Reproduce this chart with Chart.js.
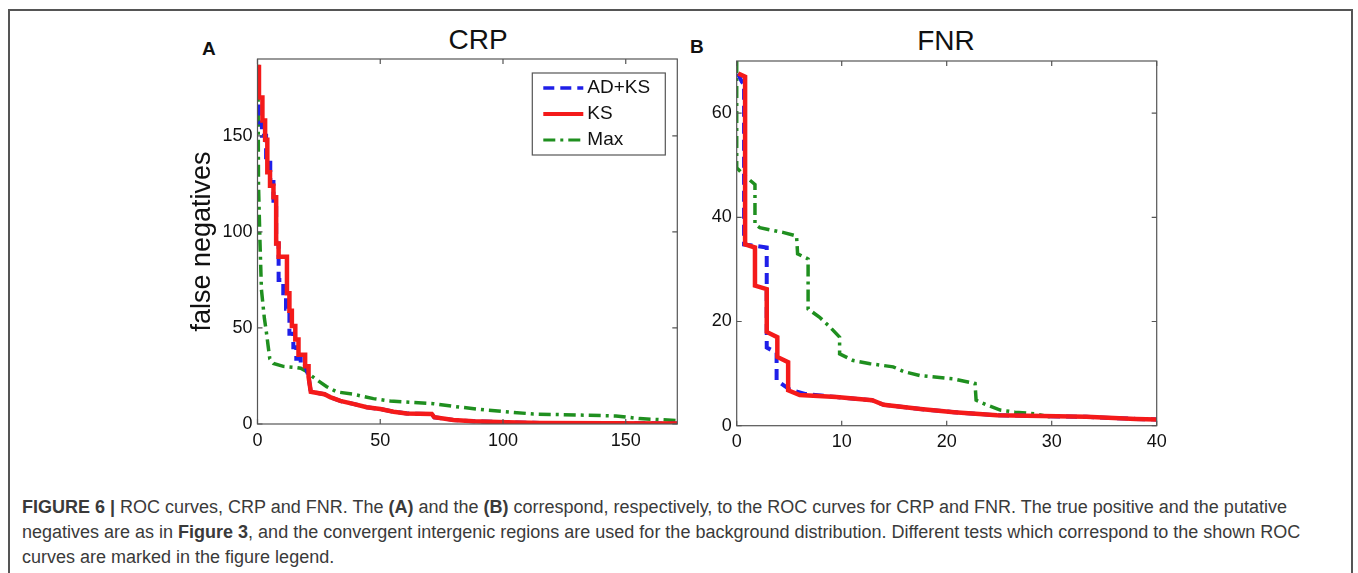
<!DOCTYPE html>
<html>
<head>
<meta charset="utf-8">
<script src="https://cdn.jsdelivr.net/npm/chart.js@4.4.1/dist/chart.umd.min.js"></script>
<style>
  body { margin: 0; width: 1358px; height: 573px; background: #fff; position: relative; overflow: hidden;
         font-family: "Liberation Sans", Arial, sans-serif; }
  .frame { position: absolute; left: 8px; top: 9px; width: 1345px; height: 620px; border: 2px solid #555; box-sizing: border-box; }
  .panel { position: absolute; top: 20px; width: 550px; height: 450px; }
  .title { position: absolute; font-size: 28px; line-height: 28px; color: #111; transform: translateX(-50%); }
  .letter { position: absolute; font-weight: bold; font-size: 19px; line-height: 19px; color: #111; }
  .caption { position: absolute; left: 22px; top: 495px; font-size: 18px; line-height: 25px; color: #3a3a3a; white-space: nowrap; }
</style>
</head>
<body>
<div class="frame"></div>
<div class="letter" style="left:202px; top:39px;">A</div>
<div class="letter" style="left:690px; top:37px;">B</div>
<div class="title" style="left:478px; top:26px;">CRP</div>
<div class="title" style="left:946px; top:27px;">FNR</div>
<div class="panel" style="left:150px;"><canvas id="crp"></canvas></div>
<div class="panel" style="left:640px;"><canvas id="fnr"></canvas></div>
<div class="caption">
<b>FIGURE 6 |</b> ROC curves, CRP and FNR. The <b>(A)</b> and the <b>(B)</b> correspond, respectively, to the ROC curves for CRP and FNR. The true positive and the putative<br>
negatives are as in <b>Figure 3</b>, and the convergent intergenic regions are used for the background distribution. Different tests which correspond to the shown ROC<br>
curves are marked in the figure legend.
</div>
<script>
// panel A: CRP  [x, y] corners of the step curves
const crpADKS = [[0.5,184],[0.5,157],[1.8,157],[1.8,150],[3.5,150],[3.5,136],[5.2,136],[5.2,126],[6.5,126],[6.5,115],
  [7.6,115],[7.6,94],[8.6,94],[8.6,75],[10.5,75],[10.5,68],[11.6,68],[11.6,60],[13,60],[13,47],[14.6,47],[14.6,40],
  [15.8,40],[15.8,34],[17.6,34],[17.6,30],[19.6,30],[20.8,24.6],[21.7,16.8],[27.3,15.5],[29.6,14],[33.7,12],[39,10.5],
  [44.5,8.7],[50,7.8],[55.4,6.4],[60.8,5.5],[71,5.2],[72,3.5],[79.8,2.1],[87.9,1.4],[101.5,0.9],[115,0.5],[171,0.3]];
const crpKS = [[0.6,187],[0.6,170],[2,170],[2,158],[3.1,158],[3.1,148],[4,148],[4,131],[5.1,131],[5.1,124],[6.5,124],
  [6.5,118],[7.6,118],[7.6,94],[8.6,94],[8.6,87],[12,87],[12,68],[13,68],[13,59],[14,59],[14,51],[15.4,51],[15.4,44],
  [16.7,44],[16.7,36],[19.4,36],[19.4,30],[20.8,30],[20.8,24.6],[21.7,16.8],[27.3,15.5],[29.6,14],[33.7,12],[39,10.5],
  [44.5,8.7],[50,7.8],[55.4,6.4],[60.8,5.5],[71,5.2],[72,3.5],[79.8,2.1],[87.9,1.4],[101.5,0.9],[115,0.5],[171,0.3]];
const crpMax = [[0.2,187],[0.4,125],[1,95],[1.6,70],[2.8,55],[3.5,49],[4.4,40],[5,34],[6.5,31.5],[10.5,30],[15,29.5],
  [17.6,29],[20,27.3],[21.5,25.5],[24.2,23],[28.2,19.4],[32.3,16.7],[39,15.5],[47.2,13.2],[54,12],[71.7,10.6],
  [79.8,9.2],[93.4,7.2],[112.4,5.2],[146,4.2],[155.6,2.8],[171,1.8]];
const crpXTicks = [0, 50, 100, 150];
const crpYTicks = [0, 50, 100, 150];

// panel B: FNR
const fnrADKS = [[0.1,67.6],[0.5,66],[0.7,65.5],[0.7,34.8],[2.86,34.2],[2.86,15],[3.8,14],[3.8,8.7],[4.1,8.3],[5,7],
  [6.5,6.1],[9.5,5.5],[12.9,4.9],[14,4],[17.5,3.2],[20.7,2.6],[24.8,2],[33.3,1.7],[38,1.3],[40,1.2]];
const fnrKS = [[0.15,67.6],[0.8,67],[0.8,34.8],[1.74,34.2],[1.74,26.9],[2.86,26.2],[2.86,18],[3.87,17],[3.87,13.2],
  [4.9,12.2],[4.9,6.8],[6,5.9],[9.5,5.5],[12.9,4.9],[14,4],[17.5,3.2],[20.7,2.6],[24.8,2],[33.3,1.7],[38,1.3],[40,1.2]];
const fnrMax = [[0,70],[0,49.5],[0.8,47.9],[1.74,46.3],[1.74,38.7],[2.2,38],[4.4,37.1],[5.7,36.4],[5.8,33],[6.8,32],
  [6.8,22.4],[7.9,20.8],[8.9,18.9],[9.8,17],[9.8,13.8],[11.1,12.5],[12.7,11.9],[14.9,11.3],[15.9,10.4],[17.5,9.6],
  [20.6,9],[22.7,8.1],[22.8,4.9],[23.8,4],[25.1,3],[26.5,2.6],[28.4,2.3],[29.8,1.7],[30,0.8]];
const fnrXTicks = [0, 10, 20, 30, 40];
const fnrYTicks = [0, 20, 40, 60];

const legendLabels = ['AD+KS', 'KS', 'Max'];

const styles = {
  'AD+KS': { color: '#1f1fe8', width: 4,   dash: [11, 6], order: 2 },
  'KS':    { color: '#f41a1a', width: 4.5, dash: [],      order: 1 },
  'Max':   { color: '#1f8f1f', width: 3.5, dash: [12, 5, 3, 5], order: 3 }
};

function series(label, pts) {
  const s = styles[label];
  return {
    label: label,
    data: pts.map(p => ({ x: p[0], y: p[1] })),
    borderColor: s.color,
    borderWidth: s.width,
    borderDash: s.dash,
    order: s.order,
    pointRadius: 0,
    tension: 0,
    fill: false
  };
}

// box around the axes with inward tick marks on all four sides
const boxTicks = {
  id: 'boxTicks',
  afterDatasetsDraw(chart) {
    const { ctx, chartArea: a, scales } = chart;
    ctx.save();
    ctx.strokeStyle = '#555';
    ctx.lineWidth = 1.2;
    ctx.strokeRect(a.left, a.top, a.right - a.left, a.bottom - a.top);
    ctx.beginPath();
    scales.x.ticks.forEach(t => {
      const px = scales.x.getPixelForValue(t.value);
      ctx.moveTo(px, a.bottom); ctx.lineTo(px, a.bottom - 5);
      ctx.moveTo(px, a.top); ctx.lineTo(px, a.top + 5);
    });
    scales.y.ticks.forEach(t => {
      const py = scales.y.getPixelForValue(t.value);
      ctx.moveTo(a.left, py); ctx.lineTo(a.left + 5, py);
      ctx.moveTo(a.right, py); ctx.lineTo(a.right - 5, py);
    });
    ctx.stroke();
    ctx.restore();
  }
};

const legendBox = {
  id: 'legendBox',
  afterDatasetsDraw(chart, args, opts) {
    if (!opts.show) return;
    const { ctx, chartArea: a } = chart;
    const w = 133, h = 82;
    const x0 = a.right - 12 - w, y0 = a.top + 14;
    ctx.save();
    ctx.fillStyle = '#fff';
    ctx.fillRect(x0, y0, w, h);
    ctx.strokeStyle = '#555';
    ctx.lineWidth = 1.2;
    ctx.strokeRect(x0, y0, w, h);
    ctx.font = '19px "Liberation Sans", Arial, sans-serif';
    ctx.textBaseline = 'middle';
    legendLabels.forEach((lab, i) => {
      const ds = chart.data.datasets.find(d => d.label === lab);
      const y = y0 + 15 + i * 26;
      ctx.beginPath();
      ctx.strokeStyle = ds.borderColor;
      ctx.lineWidth = ds.borderWidth - 0.5;
      ctx.setLineDash(ds.borderDash);
      ctx.moveTo(x0 + 11, y); ctx.lineTo(x0 + 51, y);
      ctx.stroke();
      ctx.setLineDash([]);
      ctx.fillStyle = '#111';
      ctx.fillText(lab, x0 + 55, y);
    });
    ctx.restore();
  }
};

const tickFont = { size: 18, family: '"Liberation Sans", Arial, sans-serif' };

function makeChart(id, sets, xMax, yMax, xTicks, yTicks, opt) {
  return new Chart(document.getElementById(id), {
    type: 'line',
    data: { datasets: sets },
    options: {
      responsive: false,
      animation: false,
      layout: { padding: opt.padding },
      plugins: {
        legend: { display: false },
        tooltip: { enabled: false },
        legendBox: { show: opt.legend }
      },
      scales: {
        x: {
          type: 'linear',
          min: 0, max: xMax,
          grid: { display: false, drawTicks: false },
          border: { display: false },
          afterBuildTicks: s => { s.ticks = xTicks.map(v => ({ value: v })); },
          afterFit: s => { s.height = 30; },
          ticks: { color: '#111', padding: 6, maxRotation: 0, font: tickFont }
        },
        y: {
          min: 0, max: yMax,
          grid: { display: false, drawTicks: false },
          border: { display: false },
          afterBuildTicks: s => { s.ticks = yTicks.map(v => ({ value: v })); },
          afterFit: s => { s.width = opt.yWidth; },
          title: opt.yTitle ? { display: true, text: opt.yTitle, color: '#111', padding: 0,
                                font: { size: 27, family: '"Liberation Sans", Arial, sans-serif' } } : { display: false },
          ticks: { color: '#111', padding: 5, font: tickFont }
        }
      }
    },
    plugins: [boxTicks, legendBox]
  });
}

function sizeCanvas(id) {
  const c = document.getElementById(id);
  c.width = 550; c.height = 450;
  c.style.width = '550px'; c.style.height = '450px';
}
sizeCanvas('crp');
sizeCanvas('fnr');

makeChart('crp',
  [series('KS', crpKS), series('AD+KS', crpADKS), series('Max', crpMax)],
  171, 190, crpXTicks, crpYTicks,
  { padding: { left: 36, top: 39, right: 22.7, bottom: 16 }, yWidth: 71.5, yTitle: 'false negatives', legend: true });

makeChart('fnr',
  [series('KS', fnrKS), series('AD+KS', fnrADKS), series('Max', fnrMax)],
  40, 70, fnrXTicks, fnrYTicks,
  { padding: { left: 40, top: 41, right: 33.3, bottom: 14.3 }, yWidth: 56.7, yTitle: null, legend: false });
</script>
</body>
</html>
